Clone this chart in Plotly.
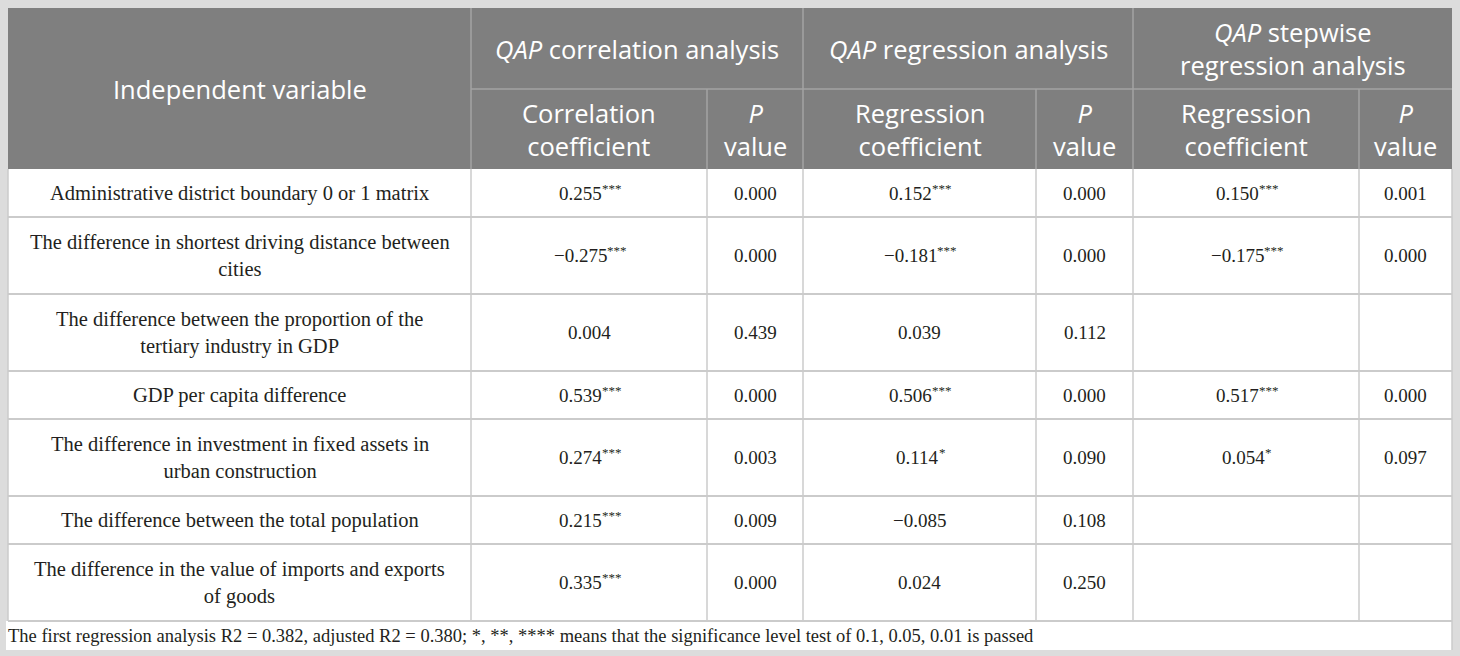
import plotly.graph_objects as go

# ---------------- data ----------------
first_header = "Independent variable"
group_headers = [
    "<i>QAP</i> correlation analysis",
    "<i>QAP</i> regression analysis",
    "<i>QAP</i> stepwise<br>regression analysis",
]
sub_headers = [
    "Correlation<br>coefficient", "<i>P</i><br>value",
    "Regression<br>coefficient", "<i>P</i><br>value",
    "Regression<br>coefficient", "<i>P</i><br>value",
]
variables = [
    "Administrative district boundary 0 or 1 matrix",
    "The difference in shortest driving distance between<br>cities",
    "The difference between the proportion of the<br>tertiary industry in GDP",
    "GDP per capita difference",
    "The difference in investment in fixed assets in<br>urban construction",
    "The difference between the total population",
    "The difference in the value of imports and exports<br>of goods",
]
corr_coef = ["0.255***", "\u22120.275***", "0.004", "0.539***", "0.274***", "0.215***", "0.335***"]
corr_p = ["0.000", "0.000", "0.439", "0.000", "0.003", "0.009", "0.000"]
reg_coef = ["0.152***", "\u22120.181***", "0.039", "0.506***", "0.114*", "\u22120.085", "0.024"]
reg_p = ["0.000", "0.000", "0.112", "0.000", "0.090", "0.108", "0.250"]
step_coef = ["0.150***", "\u22120.175***", "", "0.517***", "0.054*", "", ""]
step_p = ["0.001", "0.000", "", "0.000", "0.097", "", ""]
footnote = ("The first regression analysis R2 = 0.382, adjusted R2 = 0.380; *, **, **** means that "
            "the significance level test of 0.1, 0.05, 0.01 is passed")

# ---------------- layout / style ----------------
W, H = 1460, 656
col_edges = [8, 471, 707, 803, 1036, 1133, 1359, 1452]
group_spans = [(1, 3), (3, 5), (5, 7)]
top, mid, head_bottom = 8, 89, 169
row_h_single, row_h_double = 48, 77
foot_h = 29
foot_left = 6

BG = "#dcdcdc"
HEAD = "#7f7f7f"
HEAD_LINE = "#a3a3a3"
BODY_LINE = "#cbcbcb"
TEXT = "#231f20"
SANS = "Open Sans"
SERIF = "Liberation Serif"
HEAD_SIZE = 25.5
VAR_SIZE = 20.5
NUM_SIZE = 19
STAR_SIZE = 13
STAR_RAISE = 5
FOOT_SIZE = 18.5

# approximate advance widths (em) of Liberation Serif glyphs used in numbers
GLYPH_EM = {".": 0.25, "\u2212": 0.564, "*": 0.5}


def text_width(s, size):
    return sum(GLYPH_EM.get(ch, 0.5) for ch in s) * size


columns = [variables, corr_coef, corr_p, reg_coef, reg_p, step_coef, step_p]

row_tops = []
y = head_bottom
for v in variables:
    row_tops.append(y)
    y += row_h_double if "<br>" in v else row_h_single
body_bottom = y
foot_bottom = body_bottom + foot_h
left, right = col_edges[0], col_edges[-1]

shapes = []


def rect(x0, y0, x1, y1, fill):
    shapes.append(dict(type="rect", xref="x", yref="y", x0=x0, y0=y0, x1=x1, y1=y1,
                       fillcolor=fill, line=dict(width=0), layer="below"))


def line(x0, y0, x1, y1, color, w=1.5):
    shapes.append(dict(type="line", xref="x", yref="y", x0=x0, y0=y0, x1=x1, y1=y1,
                       line=dict(color=color, width=w)))


rect(left, top, right, head_bottom, HEAD)
rect(left, head_bottom, right, body_bottom, "white")
rect(foot_left, body_bottom, right, foot_bottom, "white")

# header lines
line(col_edges[1], mid, right, mid, HEAD_LINE)
for i, e in enumerate(col_edges[1:-1], start=1):
    starts_group = any(i == a for a, b in group_spans)
    line(e, top if starts_group else mid, e, head_bottom, HEAD_LINE)

# body lines
for rt in row_tops[1:] + [body_bottom]:
    line(left, rt, right, rt, BODY_LINE, 2)
for e in col_edges[1:-1]:
    line(e, head_bottom, e, body_bottom, BODY_LINE)
line(left, head_bottom, left, body_bottom, BODY_LINE)
line(right, head_bottom, right, foot_bottom, BODY_LINE)

annotations = []


def text(x, y, s, font, size, color, xanchor="center"):
    annotations.append(dict(x=x, y=y, xref="x", yref="y", text=s, showarrow=False,
                            xanchor=xanchor, yanchor="middle", borderpad=0,
                            align="center" if xanchor == "center" else "left",
                            font=dict(family=font, size=size, color=color)))


def number(cx, cy, v):
    base = v.rstrip("*")
    stars = v[len(base):]
    if not stars:
        text(cx, cy, base, SERIF, NUM_SIZE, TEXT)
        return
    wn = text_width(base, NUM_SIZE)
    ws = text_width(stars, STAR_SIZE)
    x0 = cx - (wn + ws) / 2
    text(x0, cy, base, SERIF, NUM_SIZE, TEXT, xanchor="left")
    text(x0 + wn, cy - STAR_RAISE, stars, SERIF, STAR_SIZE, TEXT, xanchor="left")


text((col_edges[0] + col_edges[1]) / 2, (top + head_bottom) / 2, first_header, SANS, HEAD_SIZE, "white")
for (a, b), g in zip(group_spans, group_headers):
    text((col_edges[a] + col_edges[b]) / 2, (top + mid) / 2, g, SANS, HEAD_SIZE, "white")
for j, s in enumerate(sub_headers, start=1):
    text((col_edges[j] + col_edges[j + 1]) / 2, (mid + head_bottom) / 2, s, SANS, HEAD_SIZE, "white")

for r, rt in enumerate(row_tops):
    rb = row_tops[r + 1] if r + 1 < len(row_tops) else body_bottom
    cy = (rt + rb) / 2
    for c, col in enumerate(columns):
        v = col[r]
        if v:
            cx = (col_edges[c] + col_edges[c + 1]) / 2
            if c == 0:
                text(cx, cy, v, SERIF, VAR_SIZE, TEXT)
            else:
                number(cx, cy, v)

text(foot_left + 1, (body_bottom + foot_bottom) / 2, footnote, SERIF, FOOT_SIZE, TEXT, xanchor="left")

fig = go.Figure()
fig.update_layout(
    width=W, height=H, margin=dict(l=0, r=0, t=0, b=0),
    paper_bgcolor=BG, plot_bgcolor=BG,
    xaxis=dict(range=[0, W], visible=False, fixedrange=True),
    yaxis=dict(range=[H, 0], visible=False, fixedrange=True),
    shapes=shapes, annotations=annotations, showlegend=False,
)
fig.write_html("out.html", config={"displayModeBar": False},
               post_script="document.body.style.margin='0';document.body.style.background='%s';" % BG)
